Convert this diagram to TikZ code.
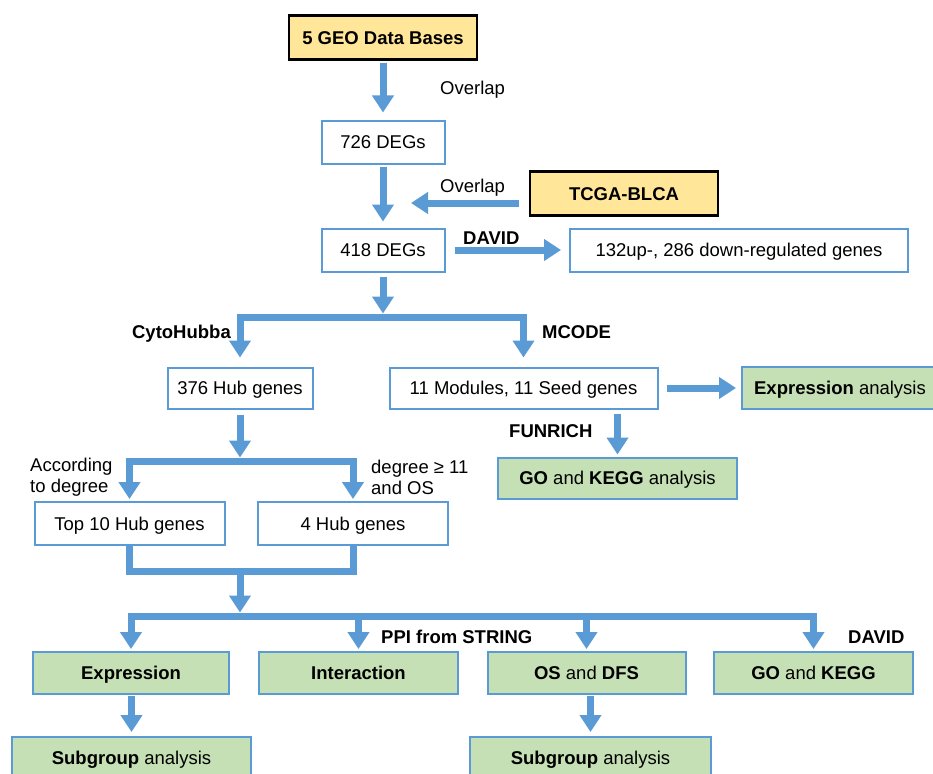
\documentclass[tikz,border=0pt]{standalone}
\usepackage{fontspec}
\setmainfont{Liberation Sans}
\usetikzlibrary{arrows.meta}
\definecolor{ablue}{HTML}{5B9BD5}
\definecolor{ayellow}{HTML}{FFE699}
\definecolor{agreen}{HTML}{C5E0B4}
\begin{document}
\begin{tikzpicture}[x=1pt,y=-1pt,
  every node/.style={font=\fontsize{18.5}{21}\selectfont, inner sep=0pt, text=black},
  capc/.style={text height=13.3pt, text depth=0pt},
  wbox/.style={capc, draw=ablue, line width=2pt, fill=white, minimum height=43pt},
  ybox/.style={capc, draw=black, line width=2.5pt, fill=ayellow, minimum height=44pt, font=\fontsize{18.5}{21}\selectfont\bfseries},
  gbox/.style={capc, draw=ablue, line width=2pt, fill=agreen, minimum height=42pt},
  lbl/.style={capc, font=\fontsize{18.5}{21}\selectfont},
  blbl/.style={capc, font=\fontsize{18.5}{21}\selectfont\bfseries},
  mlbl/.style={font=\fontsize{18.5}{21}\selectfont, align=left},
  arr/.style={draw=ablue, line width=7pt, line join=miter, -{Triangle[width=21pt,length=17pt]}},
  link/.style={draw=ablue, line width=7pt, line join=miter},
]
\useasboundingbox (0,0) rectangle (933,773);
\clip (0,0) rectangle (933,773);
\fill[white] (0,0) rectangle (933,773);

% boxes
\node[ybox, minimum width=188pt] (geo) at (383,37.5) {5 GEO Data Bases};
\node[wbox, minimum width=123pt] (d726) at (383,142) {726 DEGs};
\node[ybox, minimum width=188pt] (tcga) at (624,193.5) {TCGA-BLCA};
\node[wbox, minimum width=123pt] (d418) at (383,250) {418 DEGs};
\node[wbox, minimum width=338pt] (updown) at (739,250) {132up-, 286 down-regulated genes};
\node[wbox, minimum width=145pt, minimum height=41pt] (hub376) at (240,388) {376 Hub genes};
\node[wbox, minimum width=268pt, minimum height=41pt] (mods) at (523.5,388) {11 Modules, 11 Seed genes};
\node[gbox, minimum width=196pt] (expa) at (840,388) {\textbf{Expression} analysis};
\node[gbox, minimum width=239pt, minimum height=41pt] (go1) at (617.5,478) {\textbf{GO} and \textbf{KEGG} analysis};
\node[wbox, minimum width=190pt] (top10) at (129.5,523.5) {Top 10 Hub genes};
\node[wbox, minimum width=190pt] (hub4) at (353,523.5) {4 Hub genes};
\node[gbox, minimum width=196pt] (expr) at (131,673) {\textbf{Expression}};
\node[gbox, minimum width=199pt] (inter) at (358.5,673) {\textbf{Interaction}};
\node[gbox, minimum width=198pt] (osdfs) at (586.5,673) {\textbf{OS} and \textbf{DFS}};
\node[gbox, minimum width=199pt] (go2) at (813.5,673) {\textbf{GO} and \textbf{KEGG}};
\node[gbox, minimum width=239pt] (sub1) at (131.5,758) {\textbf{Subgroup} analysis};
\node[gbox, minimum width=241pt] (sub2) at (590.5,758) {\textbf{Subgroup} analysis};

% labels
\node[lbl, anchor=west] (ov1) at (440,88) {Overlap};
\node[lbl, anchor=west] (ov2) at (440,186) {Overlap};
\node[blbl, anchor=west] (dav1) at (463,238) {DAVID};
\node[blbl, anchor=east] (cyto) at (231,332) {CytoHubba};
\node[blbl, anchor=west] (mcode) at (542,332) {MCODE};
\node[blbl, anchor=west] (funrich) at (509,431) {FUNRICH};
\node[mlbl, anchor=west] (acc) at (30,477) {According\\to degree};
\node[mlbl, anchor=west] (degl) at (371,477) {degree ≥ 11\\and OS};
\node[blbl, anchor=west] (ppi) at (381,637) {PPI from STRING};
\node[blbl, anchor=west] (dav2) at (848,637) {DAVID};

% junctions
\coordinate (ovtip) at (411,203);
\coordinate (j1) at (383,317);
\coordinate (j2) at (240,461);
\coordinate (j3) at (240,571);
\coordinate (j4) at (240,616);

% connectors
\draw[arr, shorten <=2pt, shorten >=7pt] (geo.south) -- (d726.north);
\draw[arr, shorten <=2pt, shorten >=6pt] (d726.south) -- (d418.north);
\draw[arr, shorten <=10pt] (tcga.west |- ovtip) -- (ovtip);
\draw[arr, shorten <=9pt, shorten >=8pt] (d418.east) -- (updown.west);
\draw[arr, shorten <=4pt, shorten >=3.5pt] (d418.south) -- (j1);
\draw[arr, shorten >=9pt] (j1) -| (hub376.north);
\draw[arr, shorten >=9pt] (j1) -| (mods.north);
\draw[arr, shorten <=8.5pt, shorten >=5pt] (mods.east) -- (expa.west);
\draw[arr, shorten <=4pt, shorten >=2pt] (go1.north |- mods.south) -- (go1.north);
\draw[arr, shorten <=5pt, shorten >=3.5pt] (hub376.south) -- (j2);
\draw[arr, shorten >=2pt] (j2) -| (top10.north);
\draw[arr, shorten >=2pt] (j2) -| (hub4.north);
\draw[link] (top10.south) |- (j3) -| (hub4.south);
\draw[arr, shorten >=3.5pt] (j3) -- (j4);
\draw[arr, shorten >=2pt] (j4) -| (expr.north);
\draw[arr, shorten >=2pt] (j4) -| (go2.north);
\draw[arr, shorten >=2pt] (inter.north |- j4) -- (inter.north);
\draw[arr, shorten >=2pt] (osdfs.north |- j4) -- (osdfs.north);
\draw[arr, shorten <=1pt, shorten >=4pt] (sub1.north |- expr.south) -- (sub1.north);
\draw[arr, shorten <=1pt, shorten >=4pt] (sub2.north |- osdfs.south) -- (sub2.north);
\end{tikzpicture}
\end{document}
